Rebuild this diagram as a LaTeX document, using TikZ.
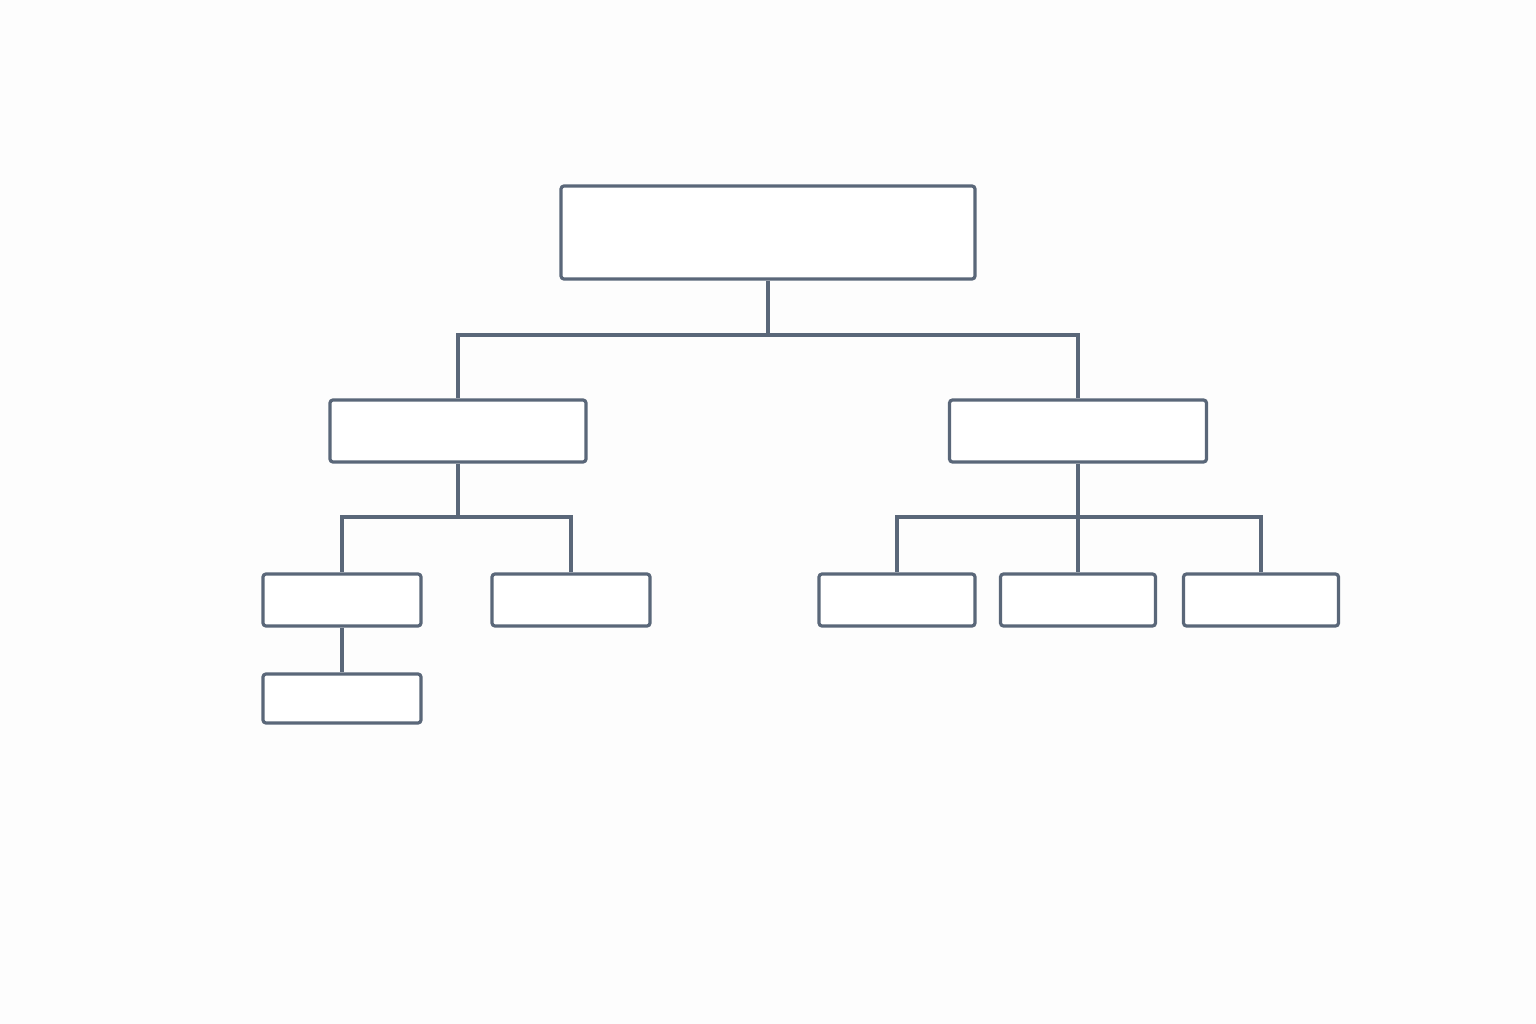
\documentclass[tikz,border=0pt]{standalone}
\usepackage{tikz}
\usetikzlibrary{calc}
\definecolor{linegray}{RGB}{90,103,121}
\definecolor{paper}{RGB}{253,253,253}
\tikzset{
	box/.style={draw=linegray, line width=3.2pt, rounded corners=3pt, fill=white, inner sep=0pt},
	link/.style={draw=linegray, line width=3.2pt}
}
\begin{document}
\begin{tikzpicture}[x=1pt,y=-1pt]
	% Фон и размеры
	\fill[paper] (0,0) rectangle (1536,1024);
	\useasboundingbox (0,0) rectangle (1536,1024);
	% Блоки
	\node[box, minimum width=414pt, minimum height=93pt] (root) at (768,232.5) {};
	\node[box, minimum width=256pt, minimum height=62pt] (left) at (458,431) {};
	\node[box, minimum width=257pt, minimum height=62pt] (right) at (1078,431) {};
	\node[box, minimum width=158pt, minimum height=52pt] (la) at (342,600) {};
	\node[box, minimum width=158pt, minimum height=52pt] (lb) at (571,600) {};
	\node[box, minimum width=158pt, minimum height=49pt] (laa) at (342,698.5) {};
	\node[box, minimum width=156pt, minimum height=52pt] (ra) at (897,600) {};
	\node[box, minimum width=155pt, minimum height=52pt] (rb) at (1078,600) {};
	\node[box, minimum width=155pt, minimum height=52pt] (rc) at (1261,600) {};
	% Шины
	\coordinate (bus) at (768,335);
	\coordinate (busL) at (458,517);
	\coordinate (busR) at (1078,517);
	% Соединения
	\draw[link] (root.south) -- (bus);
	\draw[link] (bus) -| (left.north);
	\draw[link] (bus) -| (right.north);
	\draw[link] (left.south) -- (busL);
	\draw[link] (busL) -| (la.north);
	\draw[link] (busL) -| (lb.north);
	\draw[link] (la.south) -- (laa.north);
	\draw[link] (right.south) -- (busR);
	\draw[link] (busR) -| (ra.north);
	\draw[link] (busR) -| (rb.north);
	\draw[link] (busR) -| (rc.north);
\end{tikzpicture}
\end{document}
